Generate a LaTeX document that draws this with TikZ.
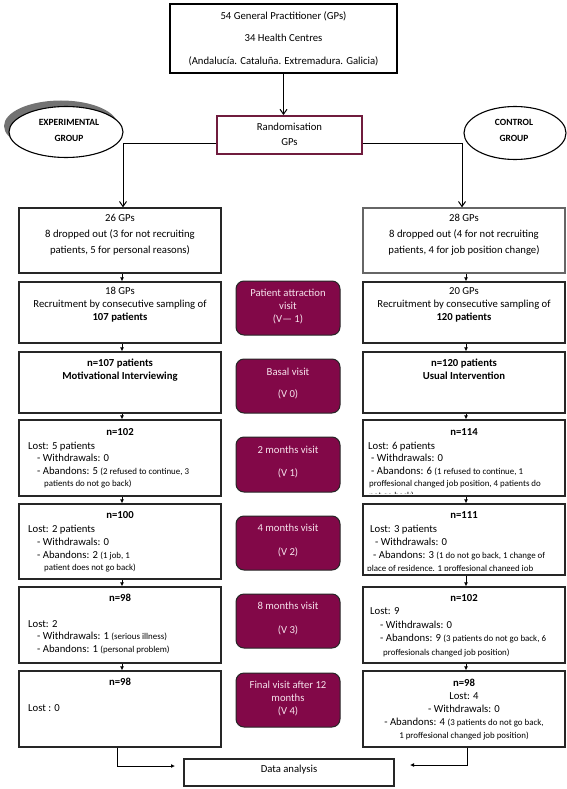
\documentclass[tikz,border=0pt]{standalone}
\usepackage{fontspec}
\setmainfont{Carlito}
\usetikzlibrary{arrows.meta,shapes.geometric}
\definecolor{plum}{RGB}{130,8,72}
\definecolor{plumtext}{RGB}{246,226,236}
\definecolor{randb}{RGB}{112,28,62}
\newcommand\smalltxt[1]{{\fontsize{8.9}{10}\selectfont #1}}
\begin{document}
\begin{tikzpicture}[x=1pt,y=-1pt,
  box/.style={draw=black!85, line width=1.3pt, rectangle, inner sep=0pt, minimum width=202pt},
  visit/.style={draw=black!85, line width=1pt, fill=plum, rounded corners=8pt, rectangle, minimum width=104pt, inner sep=0pt},
  t/.style={inner sep=0pt, font=\fontsize{10.7}{13}\selectfont, anchor=mid},
  tl/.style={t, anchor=mid west},
  tb/.style={t, font=\fontsize{10.7}{13}\selectfont\bfseries},
  ts/.style={tl, font=\fontsize{8.9}{10}\selectfont},
  vt/.style={t, text=plumtext},
  et/.style={t, font=\fontsize{9.5}{11}\selectfont\bfseries},
  arr/.style={-{Latex[length=4pt,width=4pt]}, line width=0.9pt},
  openarr/.style={-{Straight Barb[length=5pt,width=7pt]}, line width=1pt},
  oval/.style={ellipse, draw=black, line width=1.1pt, fill=white, inner sep=0pt}
]
\useasboundingbox (0,0) rectangle (567,789);
\fill[white] (0,0) rectangle (567,789);

% top box
\node[rectangle, draw=black, line width=2.4pt, minimum width=227pt, minimum height=69pt, inner sep=0pt] (T) at (283.5,38.5) {};
\node[t] (T1) at (283.5,17) {54 General Practitioner (GPs)};
\node[t] (T2) at (283.5,39) {34 Health Centres};
\node[t] (T3) at (283.5,62) {(Andalucía. Cataluña. Extremadura. Galicia)};

% randomisation
\node[rectangle, draw=randb, line width=1.8pt, minimum width=145pt, minimum height=38pt, inner sep=0pt] (R) at (289.5,135) {};
\node[t] (R1t) at (289.5,128) {Randomisation};
\node[t] (R2t) at (289.5,143) {GPs};

% ellipses
\node[ellipse, fill=black!55, minimum width=114pt, minimum height=51pt, inner sep=0pt] (ES) at (61,126) {};
\node[oval, minimum width=114pt, minimum height=51pt] (E) at (66,132) {};
\node[et] (E1) at (69,123) {EXPERIMENTAL};
\node[et] (E2) at (69,139) {GROUP};
\node[oval, minimum width=102pt, minimum height=53pt] (C) at (515,133) {};
\node[et] (C1) at (514,123) {CONTROL};
\node[et] (C2) at (514,139) {GROUP};

% left column
\node[box, minimum height=65pt] (L1) at (120,240.5) {};
\node[box, minimum height=61pt] (L2) at (120,312.5) {};
\node[box, minimum height=61pt] (L3) at (120,382.5) {};
\node[box, minimum height=76pt] (L4) at (120,458) {};
\node[box, minimum height=75pt] (L5) at (120,541.5) {};
\node[box, minimum height=76pt] (L6) at (120,625) {};
\node[box, minimum height=76pt] (L7) at (120,709) {};

% right column
\node[box, draw=black!60, minimum height=65pt] (Q1) at (464,240.5) {};
\node[box, minimum height=61pt] (Q2) at (464,312.5) {};
\node[box, minimum height=61pt] (Q3) at (464,382.5) {};
\node[box, minimum height=76pt] (Q4) at (464,458) {};
\node[box, minimum height=71pt] (Q5) at (464,539.5) {};
\node[box, minimum height=76pt] (Q6) at (464,625) {};
\node[box, minimum height=76pt] (Q7) at (464,709) {};

% visits
\node[visit, minimum height=54pt] (P1) at (288,308) {};
\node[visit, minimum height=54pt] (P2) at (288,386) {};
\node[visit, minimum height=55pt] (P3) at (288,464.5) {};
\node[visit, minimum height=54pt] (P4) at (288,543) {};
\node[visit, minimum height=54pt] (P5) at (288,621) {};
\node[visit, minimum height=54pt] (P6) at (288,700) {};

% data analysis
\node[rectangle, draw=black!85, line width=1.3pt, minimum width=210pt, minimum height=27pt, inner sep=0pt] (D) at (289,772.5) {};
\node[t] (Dt) at (289,770) {Data analysis};

% texts left
\node[t] (L1a) at (120,219) {26 GPs};
\node[t] (L1b) at (120,235) {8 dropped out (3 for not recruiting};
\node[t] (L1c) at (120,251) {patients, 5 for personal reasons)};
\node[t] (L2a) at (120,292) {18 GPs};
\node[t] (L2b) at (120,305) {Recruitment by consecutive sampling of};
\node[tb] (L2c) at (120,318) {107 patients};
\node[tb] (L3a) at (120,364) {n=107 patients};
\node[tb] (L3b) at (120,377) {Motivational Interviewing};
\node[tb] (L4a) at (120,433) {n=102};
\node[tl] (L4b) at (28,447) {Lost: 5 patients};
\node[tl] (L4c) at (37,459) {- Withdrawals: 0};
\node[tl] (L4d) at (37,472) {- Abandons: 5 \smalltxt{(2 refused to continue, 3}};
\node[ts] (L4e) at (44,484) {patients do not go back)};
\node[tb] (L5a) at (120,516) {n=100};
\node[tl] (L5b) at (28,530) {Lost: 2 patients};
\node[tl] (L5c) at (37,543) {- Withdrawals: 0};
\node[tl] (L5d) at (37,556) {- Abandons: 2 \smalltxt{(1 job, 1}};
\node[ts] (L5e) at (44,568) {patient does not go back)};
\node[tb] (L6a) at (120,599) {n=98};
\node[tl] (L6b) at (28,625) {Lost: 2};
\node[tl] (L6c) at (37,637) {- Withdrawals: 1 \smalltxt{(serious illness)}};
\node[tl] (L6d) at (37,650) {- Abandons: 1 \smalltxt{(personal problem)}};
\node[tb] (L7a) at (120,683) {n=98};
\node[tl] (L7b) at (28,709) {Lost : 0};

% texts right
\node[t] (Q1a) at (464,219) {28 GPs};
\node[t] (Q1b) at (464,235) {8 dropped out (4 for not recruiting};
\node[t] (Q1c) at (464,251) {patients, 4 for job position change)};
\node[t] (Q2a) at (464,292) {20 GPs};
\node[t] (Q2b) at (464,305) {Recruitment by consecutive sampling of};
\node[tb] (Q2c) at (464,318) {120 patients};
\node[tb] (Q3a) at (464,364) {n=120 patients};
\node[tb] (Q3b) at (464,377) {Usual Intervention};
\node[tb] (Q4a) at (464,433) {n=114};
\node[tl] (Q4b) at (368,447) {Lost: 6 patients};
\node[tl] (Q4c) at (371,459) {- Withdrawals: 0};
\node[tl] (Q4d) at (371,472) {- Abandons: 6 \smalltxt{(1 refused to continue, 1}};
\node[ts] (Q4e) at (369,484) {proffesional changed job position, 4 patients do};
\begin{scope}
\clip (364,421) rectangle (564,493);
\node[ts] (Q4f) at (369,496) {not go back)};
\end{scope}
\node[tb] (Q5a) at (464,516) {n=111};
\node[tl] (Q5b) at (370,530) {Lost: 3 patients};
\node[tl] (Q5c) at (375,543) {- Withdrawals: 0};
\node[tl] (Q5d) at (373,556) {- Abandons: 3 \smalltxt{(1 do not go back, 1 change of}};
\begin{scope}
\clip (364,505) rectangle (564,570.5);
\node[ts] (Q5e) at (367,569) {place of residence. 1 proffesional changed job};
\end{scope}
\node[tb] (Q6a) at (464,599) {n=102};
\node[tl] (Q6b) at (370,612) {Lost: 9};
\node[tl] (Q6c) at (380,626) {- Withdrawals: 0};
\node[tl] (Q6d) at (380,639) {- Abandons: 9 \smalltxt{(3 patients do not go back, 6}};
\node[ts] (Q6e) at (383,653) {proffesionals changed job position)};
\node[tb] (Q7a) at (464,684) {n=98};
\node[t] (Q7b) at (464,697) {Lost: 4};
\node[t] (Q7c) at (464,710) {- Withdrawals: 0};
\node[t] (Q7d) at (464,723) {- Abandons: 4 \smalltxt{(3 patients do not go back,}};
\node[t, font=\fontsize{8.9}{10}\selectfont] (Q7e) at (464,736) {1 proffesional changed job position)};

% visit texts
\node[vt] (P1a) at (288,294) {Patient attraction};
\node[vt] (P1b) at (288,307) {visit};
\node[vt] (P1c) at (288,320) {(V— 1)};
\node[vt] (P2a) at (288,373) {Basal visit};
\node[vt] (P2b) at (288,395) {(V 0)};
\node[vt] (P3a) at (288,451) {2 months visit};
\node[vt] (P3b) at (288,474) {(V 1)};
\node[vt] (P4a) at (288,529) {4 months visit};
\node[vt] (P4b) at (288,553) {(V 2)};
\node[vt] (P5a) at (288,607) {8 months visit};
\node[vt] (P5b) at (288,631) {(V 3)};
\node[vt] (P6a) at (288,686) {Final visit after 12};
\node[vt] (P6b) at (288,699) {months};
\node[vt] (P6c) at (288,712) {(V 4)};

% connectors
\draw[openarr] (T.south) -- (T.south |- R.north);
\draw[openarr] ([yshift=-8pt]R.west) -| ([xshift=3pt]L1.north);
\draw[openarr] ([yshift=-8pt]R.east) -| ([xshift=-2pt]Q1.north);
\foreach \a/\b in {L1/L2,L2/L3,L3/L4,L4/L5,L5/L6,L6/L7,Q1/Q2,Q2/Q3,Q3/Q4,Q4/Q5,Q5/Q6,Q6/Q7}
  \draw[arr] ([xshift=2pt]\a.south) -- ([xshift=2pt]\b.north);
\coordinate (la) at (175,766);
\coordinate (ra) at (410,765);
\draw[arr] ([xshift=-3pt]L7.south) |- (la);
\draw[arr] ([xshift=3pt]Q7.south) |- (ra);
\end{tikzpicture}
\end{document}
